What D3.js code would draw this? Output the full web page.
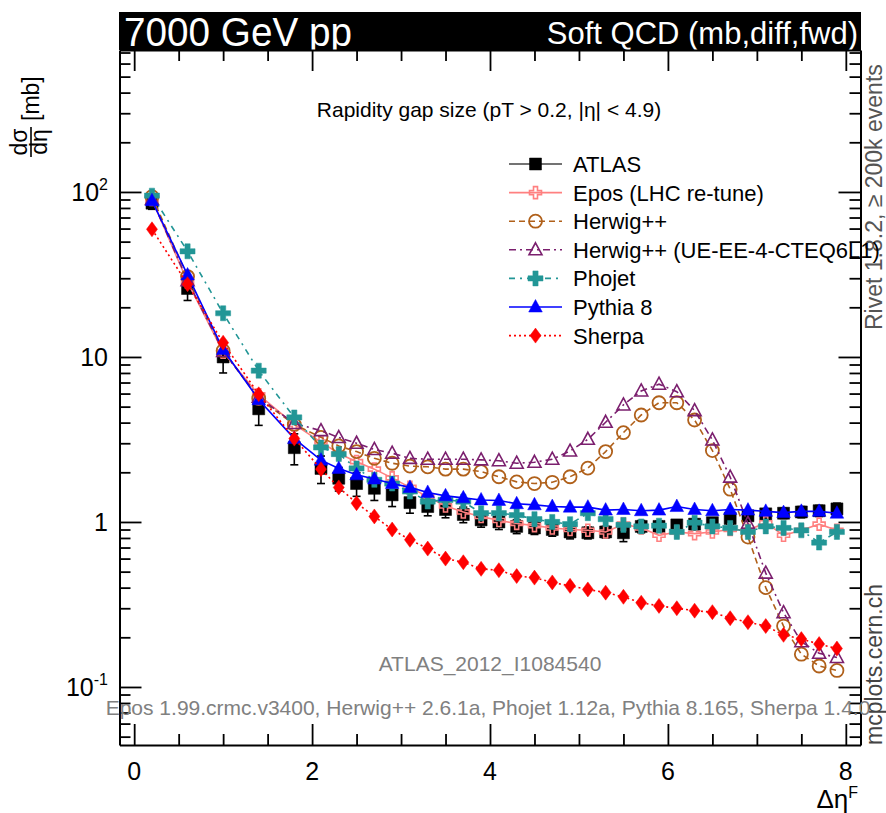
<!DOCTYPE html>
<html lang="en">
<head>
<meta charset="UTF-8" />
<script src="https://d3js.org/d3.v7.min.js"></script>
<title>Rapidity gap size</title>
<style>
  body { margin: 0; background: #fff; }
  svg text { font-family: "Liberation Sans", Arial, Helvetica, sans-serif; }
</style>
</head>
<body>
<script>
var w = 886;
var h = 813;

// bin centres (delta eta F)
var binX = [0.2, 0.6, 1.0, 1.4, 1.8, 2.1, 2.3, 2.5, 2.7, 2.9, 3.1, 3.3, 3.5, 3.7, 3.9, 4.1, 4.3, 4.5, 4.7, 4.9,
            5.1, 5.3, 5.5, 5.7, 5.9, 6.1, 6.3, 6.5, 6.7, 6.9, 7.1, 7.3, 7.5, 7.7, 7.9];

var atlas = [85.5, 26.0, 10.0, 4.85, 2.82, 2.11, 1.84, 1.71, 1.60, 1.46, 1.31, 1.24, 1.19, 1.11, 1.03, 1.00, 0.94, 0.92, 0.90, 0.87,
             0.86, 0.87, 0.86, 0.94, 0.94, 0.96, 0.97, 0.99, 1.05, 1.09, 1.12, 1.13, 1.15, 1.17, 1.20];
var atlasErr = [7, 4, 2, 1.0, 0.6, 0.4, 0.3, 0.28, 0.25, 0.22, 0.18, 0.15, 0.13, 0.12, 0.1, 0.1, 0.09, 0.08, 0.08, 0.08,
                0.07, 0.07, 0.1, 0.08, 0.07, 0.07, 0.07, 0.07, 0.08, 0.08, 0.08, 0.08, 0.09, 0.09, 0.1];
var epos = [90, 28.5, 10.7, 5.9, 3.9, 3.05, 2.6, 2.32, 2.09, 1.85, 1.62, 1.42, 1.25, 1.15, 1.08, 1.02, 0.98, 0.95, 0.92, 0.90,
            0.89, 0.87, 0.97, 0.92, 0.83, 0.87, 0.85, 0.87, 0.90, 0.89, 0.99, 0.83, 0.89, 0.97, 0.89];
var herwig = [93.7, 30.7, 10.9, 5.6, 3.9, 3.26, 2.89, 2.67, 2.43, 2.27, 2.18, 2.16, 2.09, 2.09, 2.02, 1.88, 1.75, 1.71, 1.74, 1.88,
              2.12, 2.67, 3.48, 4.45, 5.28, 5.28, 4.15, 2.71, 1.58, 0.81, 0.40, 0.234, 0.158, 0.134, 0.126];
var herwigUE = [90, 29, 10.8, 5.7, 3.95, 3.58, 3.25, 3.0, 2.75, 2.61, 2.43, 2.40, 2.40, 2.40, 2.38, 2.35, 2.27, 2.30, 2.40, 2.69,
                3.17, 4.02, 5.12, 6.22, 6.84, 6.16, 4.73, 3.14, 1.87, 0.98, 0.49, 0.282, 0.188, 0.16, 0.151];
var phojet = [95, 43.7, 18.4, 8.26, 4.3, 2.83, 2.58, 2.11, 1.80, 1.71, 1.53, 1.33, 1.36, 1.33, 1.13, 1.13, 1.10, 1.04, 1.00, 0.97,
              1.13, 1.04, 0.96, 0.94, 0.95, 0.87, 0.99, 0.94, 0.92, 0.87, 0.94, 0.92, 0.89, 0.75, 0.87];
var pythia = [88.6, 31.4, 11.1, 5.5, 3.2, 2.37, 2.11, 1.93, 1.82, 1.71, 1.62, 1.51, 1.44, 1.40, 1.36, 1.35, 1.29, 1.27, 1.24, 1.23,
              1.23, 1.18, 1.19, 1.17, 1.18, 1.24, 1.19, 1.17, 1.19, 1.18, 1.16, 1.14, 1.16, 1.16, 1.13];
var sherpa = [59.4, 27.6, 12.2, 5.94, 3.2, 2.09, 1.62, 1.30, 1.08, 0.90, 0.78, 0.69, 0.60, 0.57, 0.52, 0.51, 0.47, 0.46, 0.43, 0.41,
              0.39, 0.373, 0.352, 0.324, 0.31, 0.30, 0.29, 0.284, 0.261, 0.247, 0.234, 0.207, 0.195, 0.182, 0.171];

var legendNames = ["ATLAS", "Epos (LHC re-tune)", "Herwig++", "Herwig++ (UE-EE-4-CTEQ6L1)", "Phojet", "Pythia 8", "Sherpa"];

var xMajor = [0, 2, 4, 6, 8];
var xMinor = [0.5, 1, 1.5, 2.5, 3, 3.5, 4.5, 5, 5.5, 6.5, 7, 7.5];
var yMajor = [0.1, 1, 10, 100];
var yMinor = [0.05, 0.06, 0.07, 0.08, 0.09, 0.2, 0.3, 0.4, 0.5, 0.6, 0.7, 0.8, 0.9,
              2, 3, 4, 5, 6, 7, 8, 9, 20, 30, 40, 50, 60, 70, 80, 90, 200, 300, 400, 500, 600, 700];
var yLabels = [{v: 100, base: "10", sup: "2"}, {v: 10, base: "10", sup: ""}, {v: 1, base: "1", sup: ""}, {v: 0.1, base: "10", sup: "-1"}];

var plotL = 119.5, plotR = 860.5, plotT = 50, plotB = 745;

var x = d3.scaleLinear().domain([-0.165, 8.165]).range([plotL, plotR]);
var y = d3.scaleLog().domain([0.0445, 725]).range([plotB, plotT]);

var svg = d3.select("body").append("svg")
  .attr("width", w)
  .attr("height", h);

// header bar
svg.append("rect").attr("x", 119).attr("y", 12).attr("width", 742).attr("height", 38).attr("fill", "#000");
svg.append("text").attr("x", 124).attr("y", 46).attr("fill", "#fff")
  .attr("font-size", 40).attr("textLength", 228).attr("lengthAdjust", "spacingAndGlyphs")
  .text("7000 GeV pp");
svg.append("text").attr("x", 858).attr("y", 44).attr("fill", "#fff").attr("text-anchor", "end")
  .attr("font-size", 31).text("Soft QCD (mb,diff,fwd)");

// axes, ticks pointing inward
function styleAxis(g) {
  g.selectAll("line").attr("stroke", "#000").attr("stroke-width", 1.8);
  g.select(".domain").attr("stroke", "#000").attr("stroke-width", 2);
}
function noDomain(g) { g.select(".domain").remove(); styleAxis(g); }

svg.append("g").attr("transform", "translate(0," + plotB + ")")
  .call(d3.axisBottom(x).tickValues(xMajor).tickSize(-21).tickSizeOuter(0).tickFormat(""))
  .call(styleAxis);
svg.append("g").attr("transform", "translate(0," + plotB + ")")
  .call(d3.axisBottom(x).tickValues(xMinor).tickSize(-11).tickFormat(""))
  .call(noDomain);
svg.append("g").attr("transform", "translate(0," + plotT + ")")
  .call(d3.axisTop(x).tickValues(xMajor).tickSize(-21).tickSizeOuter(0).tickFormat(""))
  .call(styleAxis);
svg.append("g").attr("transform", "translate(0," + plotT + ")")
  .call(d3.axisTop(x).tickValues(xMinor).tickSize(-11).tickFormat(""))
  .call(noDomain);
svg.append("g").attr("transform", "translate(" + plotL + ",0)")
  .call(d3.axisLeft(y).tickValues(yMajor).tickSize(-22).tickSizeOuter(0).tickFormat(""))
  .call(styleAxis);
svg.append("g").attr("transform", "translate(" + plotL + ",0)")
  .call(d3.axisLeft(y).tickValues(yMinor).tickSize(-11).tickFormat(""))
  .call(noDomain);
svg.append("g").attr("transform", "translate(" + plotR + ",0)")
  .call(d3.axisRight(y).tickValues(yMajor).tickSize(-22).tickSizeOuter(0).tickFormat(""))
  .call(styleAxis);
svg.append("g").attr("transform", "translate(" + plotR + ",0)")
  .call(d3.axisRight(y).tickValues(yMinor).tickSize(-11).tickFormat(""))
  .call(noDomain);

// tick labels
svg.selectAll(".xlab").data(xMajor).enter().append("text")
  .attr("x", function (d) { return x(d); })
  .attr("y", 780)
  .attr("text-anchor", "middle")
  .attr("font-size", 25)
  .text(function (d) { return d; });

yLabels.forEach(function (l) {
  var t = svg.append("text").attr("x", 108).attr("y", y(l.v) + 9)
    .attr("text-anchor", "end").attr("font-size", 25);
  t.append("tspan").text(l.base);
  if (l.sup) t.append("tspan").attr("dy", -11).attr("font-size", 16).text(l.sup);
});

// axis titles
var xt = svg.append("text").attr("x", 858).attr("y", 808).attr("text-anchor", "end").attr("font-size", 26);
xt.append("tspan").text("\u0394\u03b7");
xt.append("tspan").attr("dy", -10).attr("font-size", 16).text("F");

var yt = svg.append("g").attr("transform", "translate(31,158) rotate(-90)");
yt.append("text").attr("x", 16).attr("y", -4).attr("text-anchor", "middle").attr("font-size", 23).text("d\u03c3");
yt.append("line").attr("x1", 1).attr("x2", 31).attr("y1", 0).attr("y2", 0).attr("stroke", "#000").attr("stroke-width", 1.6);
yt.append("text").attr("x", 16).attr("y", 16).attr("text-anchor", "middle").attr("font-size", 23).text("d\u03b7");
yt.append("text").attr("x", 37).attr("y", 8).attr("font-size", 23).text("[mb]");

// captions
svg.append("text").attr("x", 489).attr("y", 117).attr("text-anchor", "middle").attr("font-size", 21)
  .text("Rapidity gap size (pT > 0.2, |\u03b7| < 4.9)");
svg.append("text").attr("x", 490).attr("y", 671).attr("text-anchor", "middle").attr("font-size", 21).attr("fill", "#808080")
  .text("ATLAS_2012_I1084540");
svg.append("text").attr("x", 488).attr("y", 715).attr("text-anchor", "middle").attr("font-size", 21).attr("fill", "#808080")
  .text("Epos 1.99.crmc.v3400, Herwig++ 2.6.1a, Phojet 1.12a, Pythia 8.165, Sherpa 1.4.0");
svg.append("text").attr("transform", "translate(882,330) rotate(-90)").attr("font-size", 23).attr("fill", "#555")
  .text("Rivet 1.8.2, \u2265 200k events");
svg.append("text").attr("transform", "translate(882,745) rotate(-90)").attr("font-size", 23).attr("fill", "#444")
  .text("mcplots.cern.ch");

// marker shapes
function markerPath(kind) {
  switch (kind) {
    case "square": return "M-6,-6H6V6H-6Z";
    case "opencross": return "M-2,-6H2V-2H6V2H2V6H-2V2H-6V-2H-2Z";
    case "cross": return "M-2.6,-7.5H2.6V-2.6H7.5V2.6H2.6V7.5H-2.6V2.6H-7.5V-2.6H-2.6Z";
    case "triangle": return "M0,-7.5L6.8,5L-6.8,5Z";
    case "opentriangle": return "M0,-7L6.5,5L-6.5,5Z";
    case "diamond": return "M0,-7.5L5.5,0L0,7.5L-5.5,0Z";
  }
  return "";
}
function drawMarker(g, kind, color, cx, cy) {
  if (kind === "circle") {
    g.append("circle").attr("cx", cx).attr("cy", cy).attr("r", 6.5)
      .attr("fill", "none").attr("stroke", color).attr("stroke-width", 1.8);
    return;
  }
  var open = kind === "opencross" || kind === "opentriangle";
  g.append("path").attr("d", markerPath(kind))
    .attr("transform", "translate(" + cx + "," + cy + ")")
    .attr("fill", open ? "none" : color)
    .attr("stroke", color)
    .attr("stroke-width", open ? 1.6 : 0.5);
}

var models = [
  {vals: epos, color: "#ff8080", dash: null, marker: "opencross"},
  {vals: herwig, color: "#b0601a", dash: "6,4", marker: "circle"},
  {vals: herwigUE, color: "#7b1f6e", dash: "7,4,2,4", marker: "opentriangle"},
  {vals: phojet, color: "#229696", dash: "6,5,2,5", marker: "cross"},
  {vals: pythia, color: "#0000ff", dash: null, marker: "triangle"},
  {vals: sherpa, color: "#ff0000", dash: "2,3", marker: "diamond"}
];

var line = d3.line()
  .x(function (d, i) { return x(binX[i]); })
  .y(function (d) { return y(d); });

// data: error bars and squares
var dataG = svg.append("g");
atlas.forEach(function (v, i) {
  var cx = x(binX[i]);
  var lo = y(v - atlasErr[i]), hi = y(v + atlasErr[i]);
  dataG.append("line").attr("x1", cx).attr("x2", cx).attr("y1", hi).attr("y2", lo)
    .attr("stroke", "#000").attr("stroke-width", 1.6);
  dataG.append("line").attr("x1", cx - 4).attr("x2", cx + 4).attr("y1", lo).attr("y2", lo)
    .attr("stroke", "#000").attr("stroke-width", 1.6);
  dataG.append("line").attr("x1", cx - 4).attr("x2", cx + 4).attr("y1", hi).attr("y2", hi)
    .attr("stroke", "#000").attr("stroke-width", 1.6);
  drawMarker(dataG, "square", "#000", cx, y(v));
});

// models
models.forEach(function (m) {
  var g = svg.append("g");
  g.append("path").attr("d", line(m.vals))
    .attr("fill", "none").attr("stroke", m.color).attr("stroke-width", 1.6)
    .attr("stroke-dasharray", m.dash);
  m.vals.forEach(function (v, i) {
    drawMarker(g, m.marker, m.color, x(binX[i]), y(v));
  });
});

// legend
var legendStyles = [{color: "#000", dash: null, marker: "square"}].concat(models);
legendStyles.forEach(function (s, i) {
  var ly = 164 + 28.6 * i;
  var g = svg.append("g");
  g.append("line").attr("x1", 509).attr("x2", 562).attr("y1", ly).attr("y2", ly)
    .attr("stroke", i === 0 ? "#444" : s.color).attr("stroke-width", 1.6)
    .attr("stroke-dasharray", s.dash);
  drawMarker(g, s.marker, s.color, 535.5, ly);
  g.append("text").attr("x", 573).attr("y", ly + 8).attr("font-size", 22).text(legendNames[i]);
});
</script>
</body>
</html>
